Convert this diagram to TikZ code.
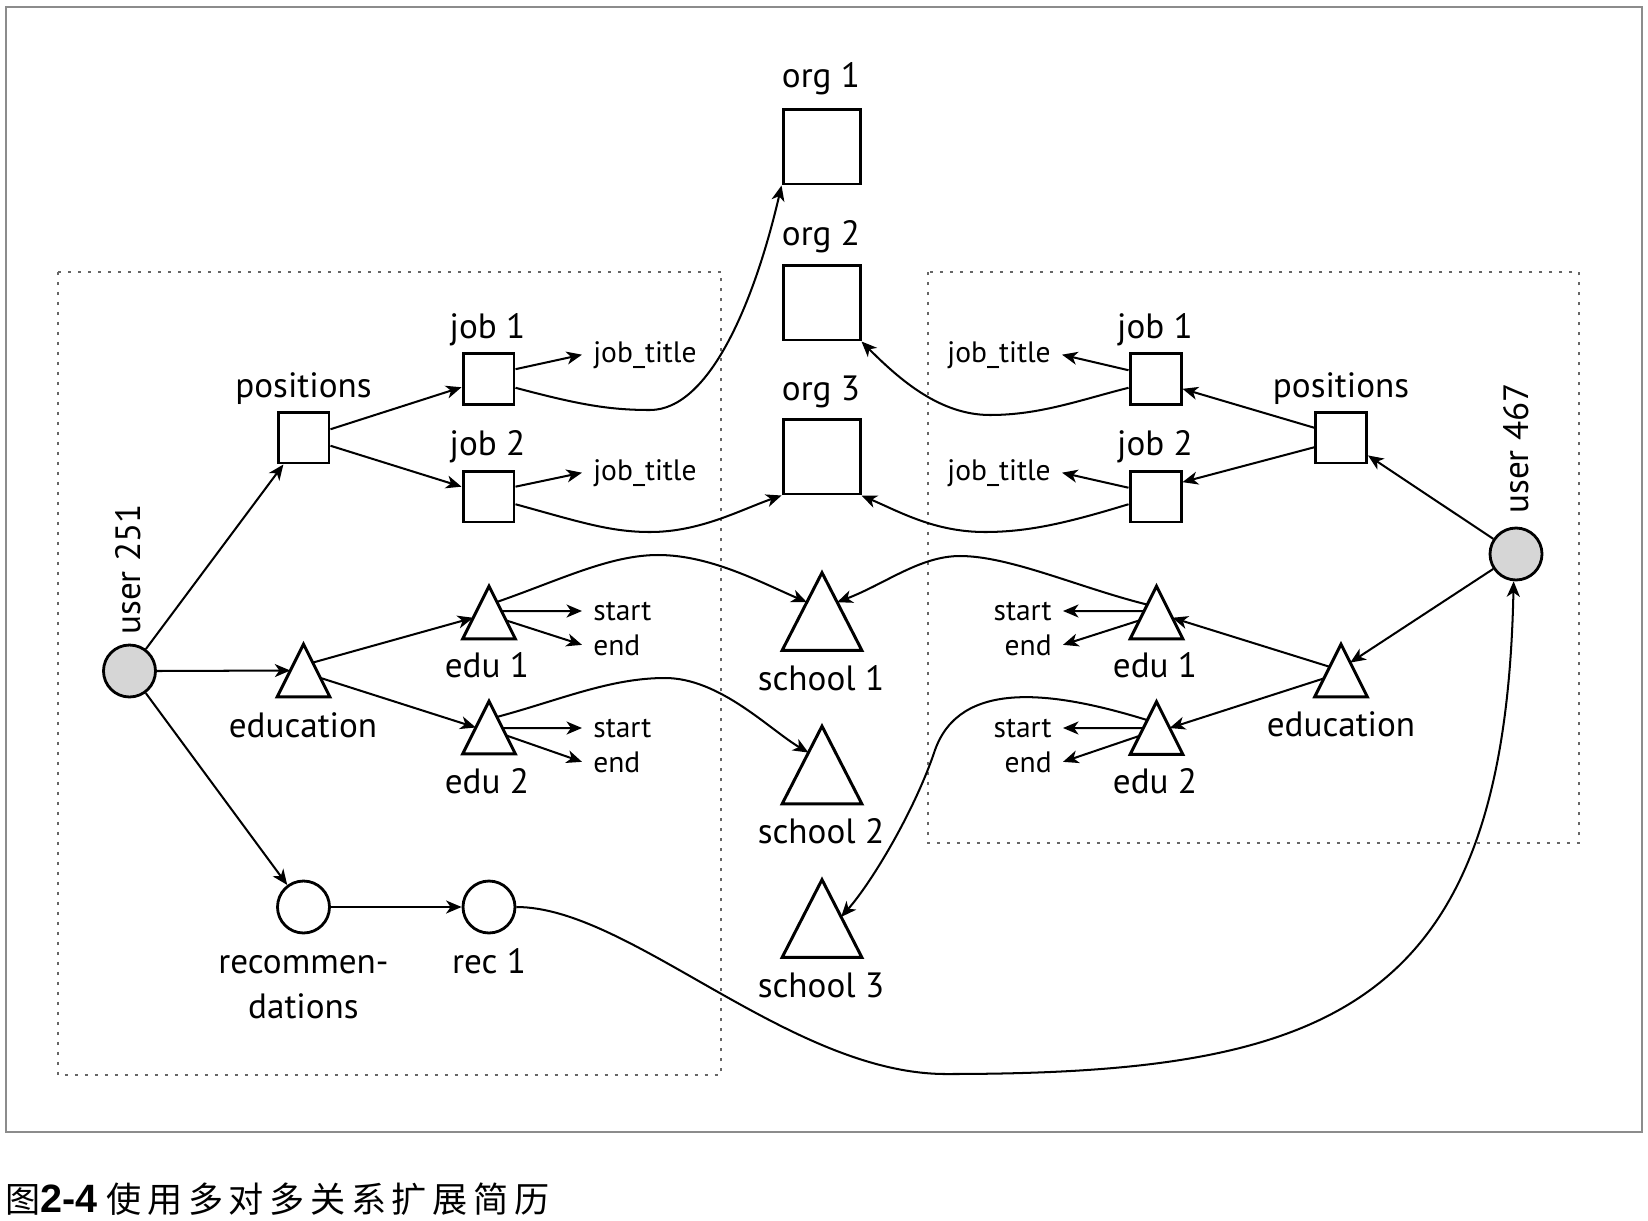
\documentclass[tikz,border=0pt]{standalone}
\usepackage{fontspec}
\setmainfont{PT Sans}
\newfontfamily\cjkf{Noto Sans CJK SC}
\newfontfamily\capf{Liberation Sans}
\usetikzlibrary{arrows.meta,calc}
\begin{document}
\begin{tikzpicture}[x=0.02cm,y=-0.02cm,
  lab/.style={font=\fontsize{20}{22}\selectfont, inner sep=0, anchor=base},
  small/.style={font=\fontsize{16.8}{19}\selectfont, inner ysep=0, inner xsep=0.22cm},
  sq/.style={draw, line width=1.7pt, fill=white, minimum size=1.02cm, inner sep=0},
  org/.style={draw, line width=1.7pt, fill=white, minimum width=1.54cm, minimum height=1.5cm, inner sep=0},
  tri/.style={minimum width=1.04cm, minimum height=1.04cm, inner sep=0},
  bigtri/.style={minimum width=1.58cm, minimum height=1.54cm, inner sep=0},
  tribord/.style={line width=1.7pt, line join=miter, fill=white},
  user/.style={circle, draw, line width=1.6pt, fill=black!16, minimum size=1.04cm, inner sep=0},
  rec/.style={circle, draw, line width=1.6pt, fill=white, minimum size=1.04cm, inner sep=0},
  arr/.style={-{Stealth[length=0.31cm,width=0.26cm,inset=0.09cm]}, line width=1.15pt},
  dotbox/.style={draw=black!60, line width=0.045cm, dash pattern=on 0.06cm off 0.14cm},
]
\useasboundingbox (0,0) rectangle (1648,1220);
\fill[white] (0,0) rectangle (1648,1220);
\draw[black!45, line width=0.8pt] (6,7) rectangle (1642,1132);

% dotted groups
\draw[dotbox] (58,272) rectangle (721,1075);
\draw[dotbox] (928,272) rectangle (1579,843);

% shared nodes
\node[org] (org1) at (821.5,146.5) {};
\node[org] (org2) at (821.5,302.5) {};
\node[org] (org3) at (821.5,456.5) {};
\node[bigtri] (sch1) at (822,611.5) {};
\node[bigtri] (sch2) at (822,765) {};
\node[bigtri] (sch3) at (822,918.5) {};

% left user
\node[user] (u251) at (129.5,671) {};
\node[sq] (lpos) at (303.5,437.5) {};
\node[sq] (ljob1) at (488.5,379) {};
\node[sq] (ljob2) at (488.5,496.5) {};
\node[tri] (ledu) at (303.5,670.5) {};
\node[tri] (ledu1) at (489,612.5) {};
\node[tri] (ledu2) at (489,727.5) {};
\node[rec] (lrec) at (303.5,907) {};
\node[rec] (lrec1) at (489,907) {};

% right user
\node[user] (u467) at (1516,554) {};
\node[sq] (rpos) at (1341,437.5) {};
\node[sq] (rjob1) at (1155.5,379) {};
\node[sq] (rjob2) at (1155.5,496.5) {};
\node[tri] (redu) at (1341,670.5) {};
\node[tri] (redu1) at (1156.5,612.5) {};
\node[tri] (redu2) at (1156.5,728) {};

\foreach \n in {sch1,sch2,sch3,ledu,ledu1,ledu2,redu,redu1,redu2}
  \draw[tribord] (\n.north) -- (\n.south east) -- (\n.south west) -- cycle;

% labels
\node[lab] (torg1) at (821,88) {org 1};
\node[lab] (torg2) at (821,245) {org 2};
\node[lab] (torg3) at (821,400) {org 3};
\node[lab] (tsch1) at (821,690) {school 1};
\node[lab] (tsch2) at (821,843) {school 2};
\node[lab] (tsch3) at (821,997) {school 3};
\node[lab, rotate=90] (tu251) at (140,569.5) {user 251};
\node[lab, rotate=90] (tu467) at (1528,448.5) {user 467};
\node[lab] (tlpos) at (303.5,397) {positions};
\node[lab] (tljob1) at (487.5,338) {job 1};
\node[lab] (tljob2) at (487.5,455) {job 2};
\node[lab] (tledu) at (303,737) {education};
\node[lab] (tledu1) at (487,677) {edu 1};
\node[lab] (tledu2) at (487,793) {edu 2};
\node[lab] (tlrec) at (303.5,973) {recommen-};
\node[lab] (tlrec2) at (303.5,1018) {dations};
\node[lab] (tlrec1) at (489,973) {rec 1};
\node[lab] (trpos) at (1341,397) {positions};
\node[lab] (trjob1) at (1155,338) {job 1};
\node[lab] (trjob2) at (1155,455) {job 2};
\node[lab] (tredu) at (1341,736) {education};
\node[lab] (tredu1) at (1155,677) {edu 1};
\node[lab] (tredu2) at (1155,793) {edu 2};

\node[small, anchor=base west] (ltit1) at (582,362) {job\_title};
\node[small, anchor=base west] (ltit2) at (582,480) {job\_title};
\node[small, anchor=base east] (rtit1) at (1062,362) {job\_title};
\node[small, anchor=base east] (rtit2) at (1062,480) {job\_title};
\node[small, anchor=base west] (lst1) at (582,620) {start};
\node[small, anchor=base west] (lend1) at (582,655) {end};
\node[small, anchor=base west] (lst2) at (582,737) {start};
\node[small, anchor=base west] (lend2) at (582,772) {end};
\node[small, anchor=base east] (rst1) at (1063,620) {start};
\node[small, anchor=base east] (rend1) at (1063,655) {end};
\node[small, anchor=base east] (rst2) at (1063,737) {start};
\node[small, anchor=base east] (rend2) at (1063,772) {end};

% caption
\node[anchor=base west, inner sep=0] (cap) at (5,1212) {{\cjkf\fontsize{20}{22}\selectfont 图}{\capf\bfseries\fontsize{22.5}{24}\selectfont 2-4}\hspace{0.18cm}{\cjkf\fontsize{20}{22}\selectfont\addfontfeature{LetterSpace=16}使用多对多关系扩展简历}};

% left edges
\draw[arr] (u251) -- (lpos);
\draw[arr] (u251.east) -- ($(ledu.north)!0.5!(ledu.south west)$);
\draw[arr] (u251) -- (lrec);
\draw[arr] (lpos.17) -- (ljob1.-163);
\draw[arr] (lpos.-17) -- (ljob2.160);
\draw[arr] (ljob1.20) -- (ltit1.west);
\draw[arr] (ljob2.20) -- (ltit2.west);
\draw[arr] (ljob1.-18) .. controls (580,405) and (610,410) .. (650,410) .. controls (710,410) and (755,300) .. (org1.south west);
\draw[arr] (ljob2.-16) .. controls (580,522) and (610,532) .. (650,532) .. controls (700,532) and (740,510) .. (org3.south west);
\draw[arr] ($(ledu.north)!0.35!(ledu.south east)$) -- ($(ledu1.north)!0.6!(ledu1.south west)$);
\draw[arr] ($(ledu.north)!0.64!(ledu.south east)$) -- ($(ledu2.north)!0.5!(ledu2.south west)$);
\draw[arr] (intersection of ledu1.north--ledu1.south east and lst1.west--lst1.east) -- (lst1.west);
\draw[arr] ($(ledu1.north)!0.65!(ledu1.south east)$) -- (lend1.west);
\draw[arr] (intersection of ledu2.north--ledu2.south east and lst2.west--lst2.east) -- (lst2.west);
\draw[arr] ($(ledu2.north)!0.65!(ledu2.south east)$) -- (lend2.west);
\draw[arr] ($(ledu1.north)!0.3!(ledu1.south east)$) .. controls (560,580) and (610,555) .. (658,555) .. controls (710,555) and (760,582) .. ($(sch1.north)!0.38!(sch1.south west)$);
\draw[arr] ($(ledu2.north)!0.3!(ledu2.south east)$) .. controls (560,700) and (610,678) .. (665,678) .. controls (720,678) and (770,730) .. ($(sch2.north)!0.34!(sch2.south west)$);
\draw[arr] (lrec) -- (lrec1);
\draw[arr] (lrec1) .. controls (630,907) and (790,1074) .. (946,1074) .. controls (1330,1074) and (1505,1010) .. (u467.-95);

% right edges
\draw[arr] (u467) -- (rpos);
\draw[arr] (u467) -- ($(redu.north)!0.35!(redu.south east)$);
\draw[arr] (rpos.160) -- (rjob1.-20);
\draw[arr] (rpos.200) -- (rjob2.28);
\draw[arr] (rjob1.162) -- (rtit1.east);
\draw[arr] (rjob2.162) -- (rtit2.east);
\draw[arr] (rjob1.-162) .. controls (1080,400) and (1040,415) .. (990,415) .. controls (940,415) and (900,380) .. (org2.south east);
\draw[arr] (rjob2.-164) .. controls (1070,522) and (1030,532) .. (985,532) .. controls (935,532) and (900,512) .. (org3.south east);
\draw[arr] ($(redu.north)!0.43!(redu.south west)$) -- ($(redu1.north)!0.6!(redu1.south east)$);
\draw[arr] ($(redu.north)!0.65!(redu.south west)$) -- ($(redu2.north)!0.5!(redu2.south east)$);
\draw[arr] (intersection of redu1.north--redu1.south west and rst1.west--rst1.east) -- (rst1.east);
\draw[arr] ($(redu1.north)!0.65!(redu1.south west)$) -- (rend1.east);
\draw[arr] (intersection of redu2.north--redu2.south west and rst2.west--rst2.east) -- (rst2.east);
\draw[arr] ($(redu2.north)!0.65!(redu2.south west)$) -- (rend2.east);
\draw[arr] ($(redu1.north)!0.35!(redu1.south west)$) .. controls (1080,588) and (1010,556) .. (960,556) .. controls (920,556) and (885,584) .. ($(sch1.north)!0.38!(sch1.south east)$);
\draw[arr] ($(redu2.north)!0.35!(redu2.south west)$) .. controls (1050,690) and (960,680) .. (935,750) .. controls (915,810) and (872,882) .. ($(sch3.north)!0.48!(sch3.south east)$);
\end{tikzpicture}
\end{document}
